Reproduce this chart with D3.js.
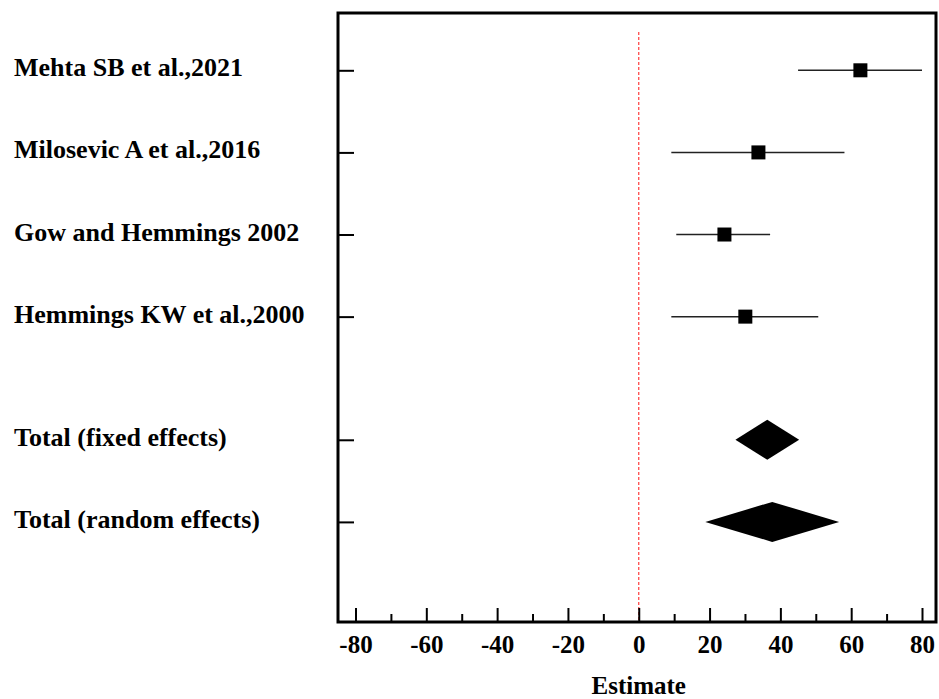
<!DOCTYPE html>
<html>
<head>
<meta charset="utf-8">
<script src="https://cdn.jsdelivr.net/npm/d3@7"></script>
<style>
  body { margin: 0; background: #fff; }
  text { font-family: "Liberation Serif", "Times New Roman", serif; font-weight: bold; }
</style>
</head>
<body>
<script>
var w = 939;
var h = 699;

// study labels and their row positions (gap before the totals)
var studies = ["Mehta SB et al.,2021", "Milosevic A et al.,2016", "Gow and Hemmings 2002",
               "Hemmings KW et al.,2000", "Total (fixed effects)", "Total (random effects)"];
var rows = [1, 2, 3, 4, 5.5, 6.5];
var estimates = [62.6, 33.8, 24.2, 30.1, 36.3, 37.7];
var lower = [45.0, 9.2, 10.6, 9.2, 27.3, 18.8];
var upper = [80.0, 58.1, 37.1, 50.7, 45.3, 56.6];
var isTotal = [false, false, false, false, true, true];

var majorTicks = [-80, -60, -40, -20, 0, 20, 40, 60, 80];
var minorTicks = [-70, -50, -30, -10, 10, 30, 50, 70];

var frame = {left: 338, right: 936, top: 13, bottom: 622};

var svg = d3.select("body")
    .append("svg")
    .attr("width", w)
    .attr("height", h);

var xScale = d3.scaleLinear()
    .domain([-80, 80])
    .range([355.5, 922]);

var yScale = d3.scaleLinear()
    .domain([1, 6.5])
    .range([70.3, 521.9]);

var data = studies.map(function(s, i) {
    return {name: s, row: rows[i], est: estimates[i], lo: lower[i], hi: upper[i], total: isTotal[i]};
});

// zero line
svg.append("line")
    .attr("x1", xScale(0))
    .attr("x2", xScale(0))
    .attr("y1", 32)
    .attr("y2", frame.bottom)
    .attr("stroke", "#ff3b3b")
    .attr("stroke-width", 1.2)
    .attr("stroke-dasharray", "3,2");

// x axis, ticks pointing inwards
var xAxis = svg.append("g")
    .attr("transform", "translate(0," + frame.bottom + ")")
    .call(d3.axisBottom(xScale)
        .tickValues(majorTicks)
        .tickSize(-14)
        .tickPadding(13)
        .tickFormat(function(d) { return String(d); }));
xAxis.select(".domain").remove();
xAxis.selectAll("line").attr("stroke", "#000").attr("stroke-width", 2);
xAxis.selectAll("text")
    .attr("fill", "#000")
    .style("font-size", "25px")
    .style("font-family", "Liberation Serif, serif")
    .style("font-weight", "bold");

var xMinor = svg.append("g")
    .attr("transform", "translate(0," + frame.bottom + ")")
    .call(d3.axisBottom(xScale)
        .tickValues(minorTicks)
        .tickSize(-8)
        .tickFormat(""));
xMinor.select(".domain").remove();
xMinor.selectAll("line").attr("stroke", "#000").attr("stroke-width", 2);

// y ticks pointing inwards
var yAxis = svg.append("g")
    .attr("transform", "translate(" + frame.left + ",0)")
    .call(d3.axisLeft(yScale)
        .tickValues(rows)
        .tickSize(-16)
        .tickFormat(""));
yAxis.select(".domain").remove();
yAxis.selectAll("line").attr("stroke", "#000").attr("stroke-width", 2);

// frame
svg.append("rect")
    .attr("x", frame.left)
    .attr("y", frame.top)
    .attr("width", frame.right - frame.left)
    .attr("height", frame.bottom - frame.top)
    .attr("fill", "none")
    .attr("stroke", "#000")
    .attr("stroke-width", 3);

// study labels
svg.selectAll(".label")
    .data(data)
    .enter()
    .append("text")
    .attr("class", "label")
    .attr("x", 14)
    .attr("y", function(d) { return yScale(d.row) + 6; })
    .style("font-size", "26px")
    .attr("fill", "#000")
    .text(function(d) { return d.name; });

var studyRows = data.filter(function(d) { return !d.total; });
var totalRows = data.filter(function(d) { return d.total; });

// confidence intervals
svg.selectAll(".ci")
    .data(studyRows)
    .enter()
    .append("line")
    .attr("class", "ci")
    .attr("x1", function(d) { return xScale(d.lo); })
    .attr("x2", function(d) { return xScale(d.hi); })
    .attr("y1", function(d) { return yScale(d.row); })
    .attr("y2", function(d) { return yScale(d.row); })
    .attr("stroke", "#222")
    .attr("stroke-width", 1.5);

// point estimates
var sq = 14;
svg.selectAll(".pt")
    .data(studyRows)
    .enter()
    .append("rect")
    .attr("class", "pt")
    .attr("x", function(d) { return xScale(d.est) - sq / 2; })
    .attr("y", function(d) { return yScale(d.row) - sq / 2; })
    .attr("width", sq)
    .attr("height", sq)
    .attr("fill", "#000");

// pooled diamonds
svg.selectAll(".diamond")
    .data(totalRows)
    .enter()
    .append("path")
    .attr("class", "diamond")
    .attr("d", function(d) {
        var y = yScale(d.row);
        return "M" + xScale(d.lo) + "," + y +
            "L" + xScale(d.est) + "," + (y - 20) +
            "L" + xScale(d.hi) + "," + y +
            "L" + xScale(d.est) + "," + (y + 20) + "Z";
    })
    .attr("fill", "#000");

// axis title
svg.append("text")
    .attr("x", xScale(0))
    .attr("y", 694)
    .attr("text-anchor", "middle")
    .style("font-size", "25px")
    .attr("fill", "#000")
    .text("Estimate");
</script>
</body>
</html>
